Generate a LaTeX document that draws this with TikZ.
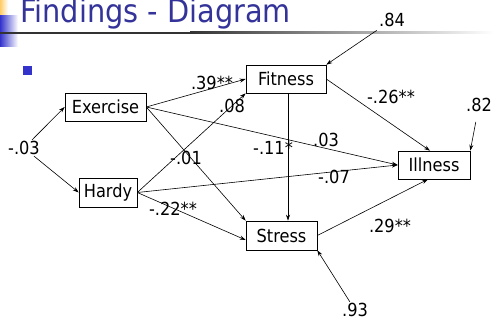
\documentclass[tikz,border=0pt]{standalone}
\usepackage{fontspec}
\setmainfont{DejaVu Sans Condensed}
\usetikzlibrary{arrows.meta, positioning}
\definecolor{titleblue}{RGB}{51,51,153}
\definecolor{bulletblue}{RGB}{51,51,204}
\definecolor{decoyellow}{RGB}{255,204,102}

\begin{document}
\begin{tikzpicture}[x=1pt, y=-1pt, line width=0.6pt,
        >={Stealth[length=6pt, width=4pt]},
        var/.style={draw, minimum height=28pt, inner sep=0pt, font=\fontsize{18}{20}\selectfont},
        coef/.style={inner sep=1pt, font=\fontsize{18}{20}\selectfont}]
    \useasboundingbox (0,0) rectangle (494,320);
    \clip (0,0) rectangle (494,320);
    % slide header
    \shade[left color=decoyellow, right color=white] (0,0) rectangle (8,16);
    \shade[left color=bulletblue, right color=white] (0,16) rectangle (18,47);
    \fill[black!80] (0,32) rectangle (190,34);
    \shade[left color=black!80, right color=white] (190,32) rectangle (494,34);
    \node[anchor=base west, inner sep=0pt, text=titleblue, font=\fontsize{32}{38}\selectfont] (title) at (20,23) {Findings - Diagram};
    \fill[bulletblue] (22.7,66) rectangle (31.7,75);

    \node[var, minimum width=81pt] (Exercise) at (105.5,107) {Exercise};
    \node[var, minimum width=80pt] (Fitness) at (286,79) {Fitness};
    \node[var, minimum width=72pt] (Illness) at (434,165) {Illness};
    \node[var, minimum width=58pt, minimum height=29pt] (Hardy) at (108,192.5) {Hardy};
    \node[var, minimum width=71pt, minimum height=29pt] (Stress) at (281.5,235.5) {Stress};

    \node[coef] (e84) at (392,20) {.84};
    \node[coef] (e82) at (479,105) {.82};
    \node[coef] (e93) at (355,310) {.93};
    \node[coef] (e03) at (24,148) {-.03};

    \draw[->, shorten <=4pt] (e84) -- (Fitness.north east);
    \draw[->, shorten <=9pt] (e82) -- (Illness.north east);
    \draw[->] (e93) -- (Stress.south east);
    \draw[->] (e03) -- (Exercise.west);
    \draw[->] (e03) -- (Hardy.west);

    \draw[->] (Exercise.east) to (Fitness.west);
    \draw[->] (Exercise.east) to (Illness.west);
    \draw[->] (Exercise.east) to (Stress.north west);
    \draw[->] (Hardy.east) to (Fitness.south west);
    \draw[->] (Hardy.east) to (Illness.west);
    \draw[->] (Hardy.east) to ([yshift=-4.5pt]Stress.west);
    \draw[->] ([xshift=2pt]Fitness.south) to ([xshift=2pt]Fitness.south |- Stress.north);
    \draw[->] (Fitness.east) to ([xshift=-4pt]Illness.north);
    \draw[->] (Stress.east) to ([xshift=-6pt]Illness.south);

    \node[coef] (l39) at (212,83) {.39**};
    \node[coef] (l08) at (232,106) {.08};
    \node[coef] (l26) at (391,97) {-.26**};
    \node[coef] (l03) at (326,140) {.03};
    \node[coef] (l11) at (273,148) {-.11*};
    \node[coef] (l01) at (186,158) {-.01};
    \node[coef] (l07) at (334,177) {-.07};
    \node[coef] (l22) at (173,209) {-.22**};
    \node[coef] (l29) at (390,226) {.29**};
\end{tikzpicture}
\end{document}
